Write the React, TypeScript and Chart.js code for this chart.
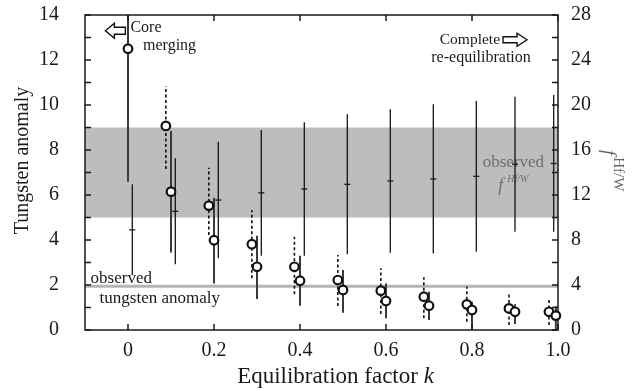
import React, { useEffect, useRef } from 'react';
import { Chart, registerables } from 'chart.js';
Chart.register(...registerables);

// ---- data ----
const xTicks = [0, 0.2, 0.4, 0.6, 0.8, 1.0];
const yLeftTicks = [0, 2, 4, 6, 8, 10, 12, 14];
const yRightTicks = [0, 4, 8, 12, 16, 20, 24, 28];

// tungsten anomaly (circles with dashed error bars)
const kDashed = [0.088, 0.188, 0.288, 0.387, 0.488, 0.588, 0.688, 0.788, 0.886, 0.979];
const wDashed = [9.07, 5.53, 3.81, 2.81, 2.22, 1.75, 1.48, 1.14, 0.96, 0.81];
const wDashedLow = [7.16, 4.22, 2.3, 1.59, 1.07, 0.71, 0.52, 0.37, 0.22, 0.22];
const wDashedHigh = [10.84, 7.21, 5.33, 4.15, 3.33, 2.74, 2.34, 1.93, 1.66, 1.44];

// tungsten anomaly (circles with solid error bars)
const kSolid = [0, 0.1, 0.2, 0.3, 0.4, 0.5, 0.6, 0.7, 0.8, 0.9, 0.995];
const wSolid = [12.5, 6.15, 3.99, 2.81, 2.19, 1.78, 1.29, 1.08, 0.89, 0.81, 0.64];
const wSolidLow = [6.59, 3.45, 2.07, 1.38, 1.08, 0.77, 0.52, 0.44, 0, 0.27, 0];
const wSolidHigh = [16, 8.84, 5.88, 4.19, 3.3, 2.67, 2.07, 1.7, 1.26, 1.15, 1.06];

// f Hf/W (right axis)
const kF = [0.01, 0.11, 0.21, 0.31, 0.41, 0.51, 0.61, 0.71, 0.81, 0.9, 0.99];
const fCenter = [8.9, 10.55, 11.55, 12.19, 12.53, 12.95, 13.25, 13.43, 13.66, 14.74, 14.8];
const fLow = [4.9, 5.84, 6.37, 6.6, 6.6, 6.73, 6.87, 6.81, 6.96, 8.74, 8.74];
const fHigh = [12.95, 15.26, 16.74, 17.78, 18.46, 19.17, 19.62, 20.06, 20.36, 20.74, 20.89];

const observedW = 1.95;
const observedFLow = 10;
const observedFHigh = 18;

const SERIF = '"Liberation Serif", "Times New Roman", serif';

function arrow(ctx: CanvasRenderingContext2D, tipX: number, tipY: number, dir: number, len: number, headLen: number, headH: number, shaftH: number) {
  const bx = tipX - dir * headLen;
  const ex = tipX - dir * len;
  ctx.beginPath();
  ctx.moveTo(tipX, tipY);
  ctx.lineTo(bx, tipY - headH);
  ctx.lineTo(bx, tipY - shaftH);
  ctx.lineTo(ex, tipY - shaftH);
  ctx.lineTo(ex, tipY + shaftH);
  ctx.lineTo(bx, tipY + shaftH);
  ctx.lineTo(bx, tipY + headH);
  ctx.closePath();
  ctx.fillStyle = '#fff';
  ctx.fill();
  ctx.strokeStyle = '#111';
  ctx.lineWidth = 1.4;
  ctx.stroke();
}

const decorPlugin = {
  id: 'decor',
  beforeDatasetsDraw(chart: any) {
    const { ctx, chartArea: a, scales } = chart;
    const x = scales.x, y = scales.y, y1 = scales.y1;
    const P = (xv: number, yv: number) => [x.getPixelForValue(xv), y.getPixelForValue(yv)];
    ctx.save();
    ctx.beginPath();
    ctx.rect(a.left, a.top, a.right - a.left, a.bottom - a.top);
    ctx.clip();

    // observed f band
    const bt = y1.getPixelForValue(observedFHigh);
    const bb = y1.getPixelForValue(observedFLow);
    ctx.fillStyle = '#bdbdbd';
    ctx.fillRect(a.left, bt, a.right - a.left, bb - bt);

    // observed tungsten anomaly line
    const ly = y.getPixelForValue(observedW);
    ctx.strokeStyle = '#b5b5b5';
    ctx.lineWidth = 3;
    ctx.beginPath();
    ctx.moveTo(a.left, ly);
    ctx.lineTo(a.right, ly);
    ctx.stroke();

    // texts inside plot
    ctx.fillStyle = '#1a1a1a';
    ctx.textBaseline = 'middle';
    ctx.textAlign = 'left';
    ctx.font = `16px ${SERIF}`;
    let p = P(0.0056, 13.41); ctx.fillText('Core', p[0], p[1]);
    p = P(0.035, 12.64); ctx.fillText('merging', p[0], p[1]);
    p = P(0.821, 12.1);
    ctx.textAlign = 'center';
    ctx.fillText('re-equilibration', p[0], p[1]);
    ctx.textAlign = 'left';
    ctx.font = `15.5px ${SERIF}`;
    p = P(0.725, 12.89); ctx.fillText('Complete', p[0], p[1]);
    ctx.font = `17px ${SERIF}`;
    p = P(-0.087, 2.3); ctx.fillText('observed', p[0], p[1]);
    p = P(-0.066, 1.41); ctx.fillText('tungsten anomaly', p[0], p[1]);
    ctx.fillStyle = '#6e6e6e';
    p = P(0.825, 7.45); ctx.fillText('observed', p[0], p[1]);
    ctx.font = `italic 18px ${SERIF}`;
    ctx.textBaseline = 'alphabetic';
    p = P(0.861, 6.2); ctx.fillText('f', p[0], p[1]);
    ctx.font = `italic 10px ${SERIF}`;
    p = P(0.882, 6.6); ctx.fillText('Hf/W', p[0], p[1]);

    // arrows
    p = P(-0.0526, 13.3); arrow(ctx, p[0], p[1], -1, 20, 9, 7.5, 3.5);
    p = P(0.928, 12.9); arrow(ctx, p[0], p[1], 1, 24, 10, 6.5, 3);

    const vline = (px: number, ya: number, yb: number) => {
      ctx.beginPath();
      ctx.moveTo(px, ya);
      ctx.lineTo(px, yb);
      ctx.stroke();
    };
    // f bars
    ctx.strokeStyle = '#151515';
    ctx.lineWidth = 1.3;
    kF.forEach((k, i) => vline(x.getPixelForValue(k), y1.getPixelForValue(fLow[i]), y1.getPixelForValue(fHigh[i])));
    // solid error bars
    ctx.strokeStyle = '#3a3a3a';
    ctx.lineWidth = 2;
    kSolid.forEach((k, i) => vline(x.getPixelForValue(k), y.getPixelForValue(wSolidLow[i]), y.getPixelForValue(wSolidHigh[i])));
    // dashed error bars
    ctx.strokeStyle = '#111';
    ctx.lineWidth = 1.6;
    ctx.setLineDash([3, 2.5]);
    kDashed.forEach((k, i) => vline(x.getPixelForValue(k), y.getPixelForValue(wDashedLow[i]), y.getPixelForValue(wDashedHigh[i])));
    ctx.setLineDash([]);
    ctx.restore();

    // frame and inward ticks
    ctx.save();
    ctx.strokeStyle = '#1a1a1a';
    ctx.lineWidth = 1.5;
    ctx.strokeRect(a.left, a.top, a.right - a.left, a.bottom - a.top);
    const tl = 6;
    ctx.beginPath();
    for (let v = 0; v <= 14; v += 1) {
      const py = y.getPixelForValue(v);
      ctx.moveTo(a.left, py); ctx.lineTo(a.left + tl, py);
    }
    for (let v = 0; v <= 28; v += 2) {
      const py = y1.getPixelForValue(v);
      ctx.moveTo(a.right, py); ctx.lineTo(a.right - tl, py);
    }
    xTicks.forEach((v) => {
      const px = x.getPixelForValue(v);
      ctx.moveTo(px, a.bottom); ctx.lineTo(px, a.bottom - tl);
      ctx.moveTo(px, a.top); ctx.lineTo(px, a.top + tl);
    });
    ctx.stroke();
    ctx.restore();
  },
  afterDraw(chart: any) {
    const { ctx, chartArea: a } = chart;
    ctx.save();
    ctx.fillStyle = '#1a1a1a';
    // left title
    ctx.save();
    ctx.translate(a.left - 62, (a.top + a.bottom) / 2 - 12);
    ctx.rotate(-Math.PI / 2);
    ctx.font = `20px ${SERIF}`;
    ctx.textAlign = 'center';
    ctx.textBaseline = 'middle';
    ctx.fillText('Tungsten anomaly', 0, 0);
    ctx.restore();
    // bottom title
    const fs = 23;
    ctx.font = `${fs}px ${SERIF}`;
    const t1 = 'Equilibration factor ';
    const w1 = ctx.measureText(t1).width;
    ctx.font = `italic ${fs}px ${SERIF}`;
    const w2 = ctx.measureText('k').width;
    const cx = (a.left + a.right) / 2 + 14;
    const sx = cx - (w1 + w2) / 2;
    ctx.textBaseline = 'middle';
    ctx.textAlign = 'left';
    ctx.font = `${fs}px ${SERIF}`;
    ctx.fillText(t1, sx, a.bottom + 47);
    ctx.font = `italic ${fs}px ${SERIF}`;
    ctx.fillText('k', sx + w1, a.bottom + 47);
    // right title (rotated clockwise)
    ctx.save();
    ctx.fillStyle = '#666';
    ctx.translate(a.right + 45, a.top + 135);
    ctx.rotate(Math.PI / 2);
    ctx.textBaseline = 'alphabetic';
    ctx.font = `italic 19px ${SERIF}`;
    ctx.fillText('f', 0, 0);
    const fw = ctx.measureText('f').width;
    ctx.font = `15px ${SERIF}`;
    ctx.fillText('Hf/W', fw + 2, -11);
    ctx.restore();
    ctx.restore();
  },
};

export default function App() {
  const ref = useRef<HTMLCanvasElement>(null);
  useEffect(() => {
    document.body.style.margin = '0';
    const tickFont = { family: SERIF, size: 20 };
    const chart = new Chart(ref.current as HTMLCanvasElement, {
      type: 'scatter',
      data: {
        datasets: [
          {
            label: 'solid',
            data: kSolid.map((k, i) => ({ x: k, y: wSolid[i] })),
            yAxisID: 'y',
            pointStyle: 'circle',
            pointRadius: 4.3,
            pointBackgroundColor: '#fff',
            pointBorderColor: '#111',
            pointBorderWidth: 2.2,
            clip: false as any,
          },
          {
            label: 'dashed',
            data: kDashed.map((k, i) => ({ x: k, y: wDashed[i] })),
            yAxisID: 'y',
            pointStyle: 'circle',
            pointRadius: 4.3,
            pointBackgroundColor: '#fff',
            pointBorderColor: '#111',
            pointBorderWidth: 2.2,
            clip: false as any,
          },
          {
            label: 'f',
            data: kF.map((k, i) => ({ x: k, y: fCenter[i] })),
            yAxisID: 'y1',
            pointStyle: 'line',
            pointRadius: 3,
            pointBorderColor: '#151515',
            pointBorderWidth: 1.3,
            clip: false as any,
          },
        ],
      },
      options: {
        responsive: false,
        animation: false,
        layout: { padding: { top: 15, left: 0, right: 0, bottom: 0 } },
        plugins: { legend: { display: false }, tooltip: { enabled: false } },
        scales: {
          x: {
            type: 'linear',
            position: 'bottom',
            min: -0.1,
            max: 1.0,
            afterBuildTicks: (s: any) => { s.ticks = xTicks.map((v) => ({ value: v })); },
            afterFit: (s: any) => { s.height = 61; s.paddingLeft = 0; s.paddingRight = 0; },
            ticks: {
              font: tickFont,
              color: '#1a1a1a',
              padding: 9,
              maxRotation: 0,
              callback: (v: any) => (Number(v) === 0 ? '0' : Number(v).toFixed(1)),
            },
            grid: { display: false, drawTicks: false },
            border: { display: false },
          },
          y: {
            type: 'linear',
            position: 'left',
            min: 0,
            max: 14,
            afterBuildTicks: (s: any) => { s.ticks = yLeftTicks.map((v) => ({ value: v })); },
            afterFit: (s: any) => { s.width = 85; s.paddingTop = 0; s.paddingBottom = 0; },
            ticks: { font: tickFont, color: '#1a1a1a', padding: 26 },
            grid: { display: false, drawTicks: false },
            border: { display: false },
          },
          y1: {
            type: 'linear',
            position: 'right',
            min: 0,
            max: 28,
            afterBuildTicks: (s: any) => { s.ticks = yRightTicks.map((v) => ({ value: v })); },
            afterFit: (s: any) => { s.width = 83; s.paddingTop = 0; s.paddingBottom = 0; },
            ticks: { font: tickFont, color: '#1a1a1a', padding: 13 },
            grid: { display: false, drawTicks: false },
            border: { display: false },
          },
        },
      },
      plugins: [decorPlugin],
    } as any);
    return () => chart.destroy();
  }, []);
  return (
    <div style={{ position: 'fixed', left: 0, top: 0, width: 641, height: 391 }}>
      <canvas ref={ref} width={641} height={391} style={{ display: 'block', width: 641, height: 391 }} />
    </div>
  );
}
